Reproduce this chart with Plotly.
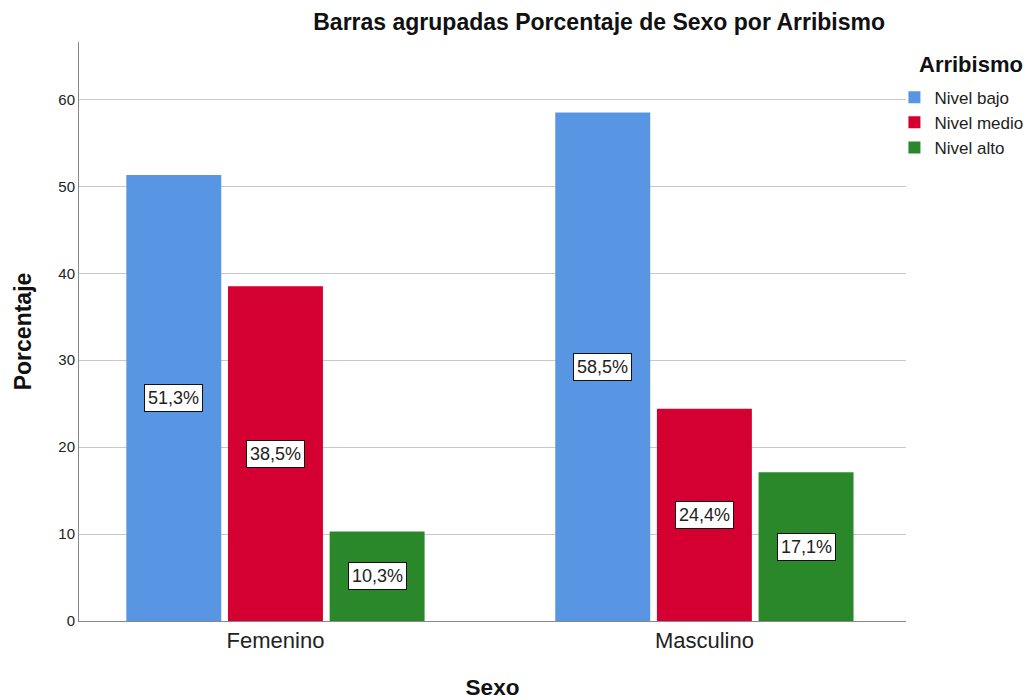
import plotly.graph_objects as go

categories = ["Femenino", "Masculino"]
series_names = ["Nivel bajo", "Nivel medio", "Nivel alto"]
nivel_bajo = [51.3, 58.5]
nivel_medio = [38.5, 24.4]
nivel_alto = [10.3, 17.1]
values = [nivel_bajo, nivel_medio, nivel_alto]
colors = ["#5895E3", "#D50032", "#2A882A"]

FONT = "Liberation Sans, Arial, sans-serif"
bargap = 0.289
bargroupgap = 0.066

fig = go.Figure()
for name, vals, col in zip(series_names, values, colors):
    fig.add_trace(go.Bar(
        x=categories, y=vals, name=name,
        marker=dict(color=col, line=dict(width=0)),
        hoverinfo="skip",
    ))

n = len(series_names)
slot = (1 - bargap) / n
for si, vals in enumerate(values):
    for ci, v in enumerate(vals):
        xpos = ci + (si - (n - 1) / 2) * slot
        fig.add_annotation(
            x=xpos, y=v / 2, xref="x", yref="y",
            text=f"{v:.1f}%".replace(".", ","),
            showarrow=False,
            font=dict(family=FONT, size=18, color="#222222"),
            bgcolor="white", bordercolor="#111111", borderwidth=1, borderpad=3,
        )

# legend title
fig.add_annotation(
    x=1.0786, y=0.962, xref="paper", yref="paper",
    text="<b>Arribismo</b>", showarrow=False,
    xanchor="center", yanchor="middle",
    font=dict(family=FONT, size=22, color="#111111"),
)

fig.update_layout(
    width=1033, height=700,
    margin=dict(l=79, r=127, t=42, b=79, autoexpand=False),
    paper_bgcolor="white", plot_bgcolor="white",
    font=dict(family=FONT, color="#222222"),
    barmode="group", bargap=bargap, bargroupgap=bargroupgap,
    title=dict(text="<b>Barras agrupadas Porcentaje de Sexo por Arribismo</b>",
               x=0.58, xanchor="center", y=0.968, yanchor="middle",
               font=dict(family=FONT, size=23, color="#111111")),
    legend=dict(
        x=0.986, xanchor="left", y=0.935, yanchor="top",
        font=dict(family=FONT, size=17, color="#222222"),
        itemwidth=30, tracegroupgap=0, bgcolor="rgba(0,0,0,0)",
    ),
    showlegend=True,
)

fig.update_xaxes(
    type="category", range=[-0.458, 1.470],
    showline=True, linecolor="#888888", linewidth=1,
    showgrid=False, ticks="",
    tickfont=dict(family=FONT, size=22, color="#222222"),
    title=dict(text="<b>Sexo</b>", font=dict(family=FONT, size=22.5, color="#111111"), standoff=36),
    automargin=False,
)
fig.update_yaxes(
    range=[0, 66.6], tickvals=[0, 10, 20, 30, 40, 50, 60],
    showline=True, linecolor="#888888", linewidth=1,
    showgrid=True, gridcolor="#C8C8C8", gridwidth=1,
    zeroline=False, ticks="",
    tickfont=dict(family=FONT, size=15, color="#222222"),
    title=dict(text="<b>Porcentaje</b>", font=dict(family=FONT, size=23, color="#111111"), standoff=20),
    automargin=False,
)

fig.write_html("out.html", config={"displayModeBar": False},
               post_script="document.body.style.margin='0';")
